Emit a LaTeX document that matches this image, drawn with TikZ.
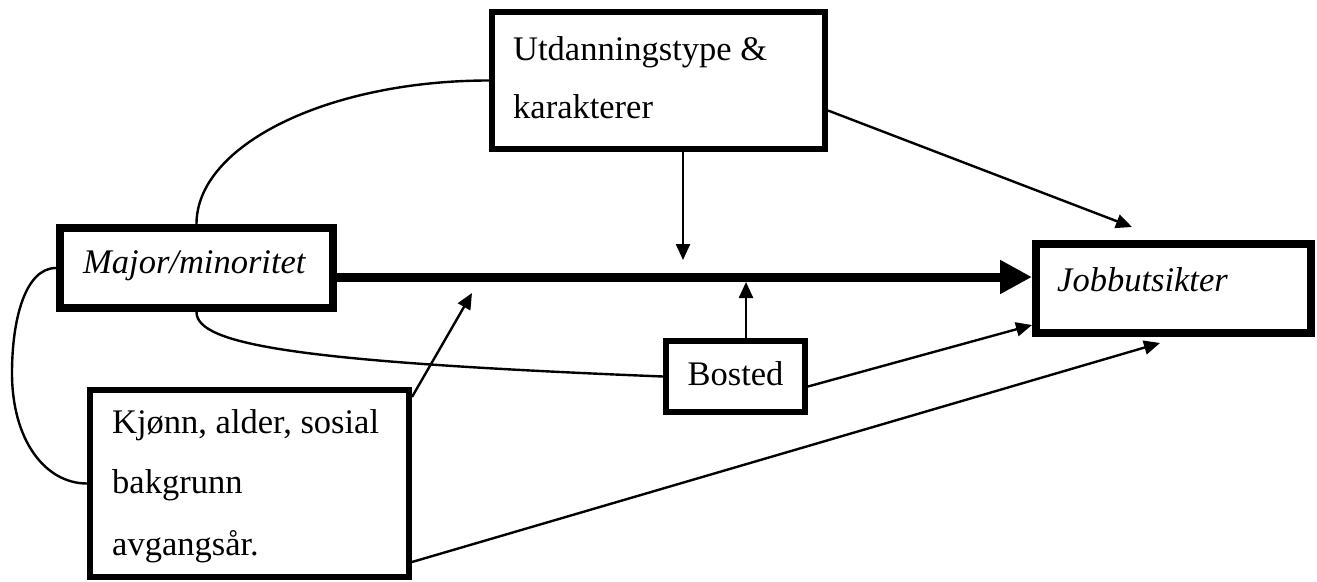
\documentclass[tikz,border=0pt]{standalone}
\usepackage{fontspec}
\setmainfont{Liberation Serif}
\usetikzlibrary{arrows.meta}
\begin{document}
\begin{tikzpicture}[x=1pt,y=-1pt,
  box/.style={draw,rectangle,inner sep=0pt},
  txt/.style={inner sep=0pt,font=\fontsize{34.5}{40}\selectfont},
  itxt/.style={txt,font=\fontsize{34.5}{40}\selectfont\itshape},
  arr/.style={line width=2.4pt,-{Triangle[length=16pt,width=14pt]}},
  link/.style={line width=2.4pt},
  main/.style={line width=9pt,-{Triangle[length=32pt,width=32pt]}}]
\useasboundingbox (0,0) rectangle (1317,581);
\fill[white] (0,0) rectangle (1317,581);

% boxes
\node[box,line width=6pt,minimum width=333pt,minimum height=137pt] (ut) at (658.5,80.5) {};
\node[box,line width=8pt,minimum width=273pt,minimum height=80pt] (maj) at (196.5,268) {};
\node[box,line width=8pt,minimum width=275pt,minimum height=89pt] (job) at (1173.5,288.5) {};
\node[box,line width=6pt,minimum width=139pt,minimum height=71pt] (bos) at (735.5,376.5) {};
\node[box,line width=6pt,minimum width=319pt,minimum height=187pt] (kjo) at (249.5,483.5) {};

% labels
\node[txt,anchor=base west] (ut1) at (513,60) {Utdanningstype \&};
\node[txt,anchor=base west] (ut2) at (513,118) {karakterer};
\node[itxt,anchor=base west] (majt) at (83,273) {Major/minoritet};
\node[itxt,anchor=base west] (jobt) at (1057,291) {Jobbutsikter};
\node[txt,anchor=base] (bost) at (735.5,385) {Bosted};
\node[txt,anchor=base west] (kj1) at (112,433) {Kjønn, alder, sosial};
\node[txt,anchor=base west] (kj2) at (112,493) {bakgrunn};
\node[txt,anchor=base west] (kj3) at (112,555) {avgangsår.};

% arrow end points
\coordinate (h) at (0,277);
\coordinate (a1) at (683,260);
\coordinate (a2) at (746,282);
\coordinate (a3) at (472,293);
\coordinate (a4) at (1132,227);
\coordinate (a6) at (1160,343);
\coordinate (lf) at (12,373);

% main effect
\draw[main] (maj.east |- h) -- (job.west |- h);

% moderators and controls
\draw[arr] (ut.south -| a1) -- (a1);
\draw[arr] (bos.north -| a2) -- (a2);
\draw[arr] ([yshift=-10pt]kjo.north east) -- (a3);
\draw[arr] ([yshift=-30pt]ut.east) -- (a4);
\draw[arr] ([yshift=-10pt]bos.east) -- ([yshift=12pt]job.south west);
\draw[arr] ([yshift=-78.5pt]kjo.east) -- (a6);

% correlations
\draw[link] (maj.north) .. controls (196.5,145) and (328,80.5) .. (ut.west);
\draw[link] (maj.south) .. controls (196.5,345) and (300,362) .. (bos.west);
\draw[link] (maj.west) .. controls (25,268) and (12,320) .. (lf)
  .. controls (12,440) and (45,483.5) .. (kjo.west);
\end{tikzpicture}
\end{document}
